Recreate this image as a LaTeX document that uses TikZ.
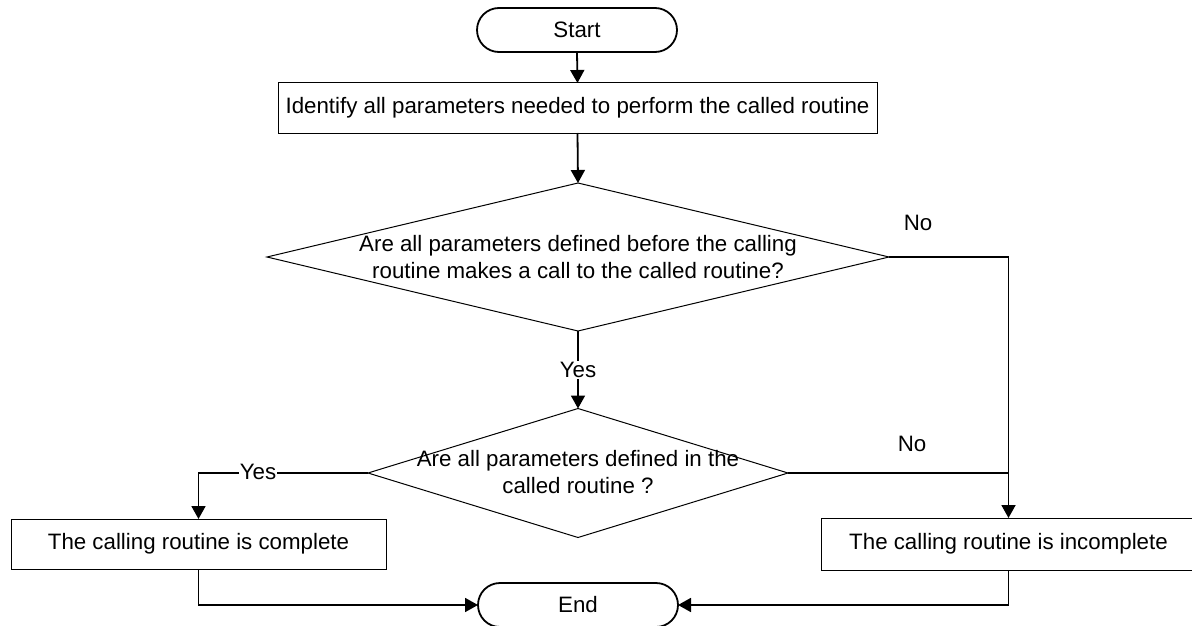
\documentclass[tikz,border=0pt]{standalone}
\usepackage{fontspec}
\setmainfont{Liberation Sans}
\usetikzlibrary{shapes.geometric,shapes.misc,arrows.meta}

\begin{document}
\begin{tikzpicture}[
  x=1pt, y=-1pt,
  every node/.style={inner sep=0pt, outer sep=0pt, font=\fontsize{22.3}{26.5}\selectfont},
  terminal/.style={rounded rectangle, draw, line width=1.8pt, minimum width=200pt, minimum height=44pt},
  process/.style={rectangle, draw, line width=1pt, minimum height=50pt},
  decision/.style={diamond, draw, line width=1pt},
  flow/.style={line width=1.8pt, -{Triangle[length=13pt,width=14pt]}},
  plainflow/.style={line width=1.8pt},
  tag/.style={fill=white, inner sep=1pt}
]
\useasboundingbox (0,0) rectangle (1192,626);

% shapes
\node[terminal] (start) at (577,30) {Start};
\node[process, minimum width=599pt] (ident) at (577.5,108)
  {Identify all parameters needed to perform the called routine};
\node[decision, minimum width=622pt, minimum height=148pt] (d1) at (578,257) {};
\node[align=center] (d1text) at (d1.center)
  {Are all parameters defined before the calling\\routine makes a call to the called routine?};
\node[decision, minimum width=420pt, minimum height=129pt] (d2) at (578,473) {};
\node[align=center] (d2text) at (578,472)
  {Are all parameters defined in the\\called routine ?};
\node[process, minimum width=375pt] (comp) at (198.5,544) {The calling routine is complete};
\node[process, minimum width=375pt, minimum height=52pt] (inc) at (1008.5,544) {The calling routine is incomplete};
\node[terminal] (end) at (578,605) {End};

% connectors
\draw[flow] (start.south) -- (ident.north);
\draw[flow] (ident.south) -- (d1.north);
\draw[flow] (d1.south) -- (d2.north);
\node[tag] (yes1) at (578,370) {Yes};
\draw[flow] (d1.east) -| (inc.north);
\node (no1) at (918,223) {No};
\coordinate (join) at (d2.east -| inc.north);
\draw[plainflow] (d2.east) -- (join);
\node (no2) at (912,444) {No};
\draw[flow] (d2.west) -| (comp.north);
\node[tag] (yes2) at (258,472) {Yes};
\draw[flow] (comp.south) |- (end.west);
\draw[flow] (inc.south) |- (end.east);
\end{tikzpicture}
\end{document}
